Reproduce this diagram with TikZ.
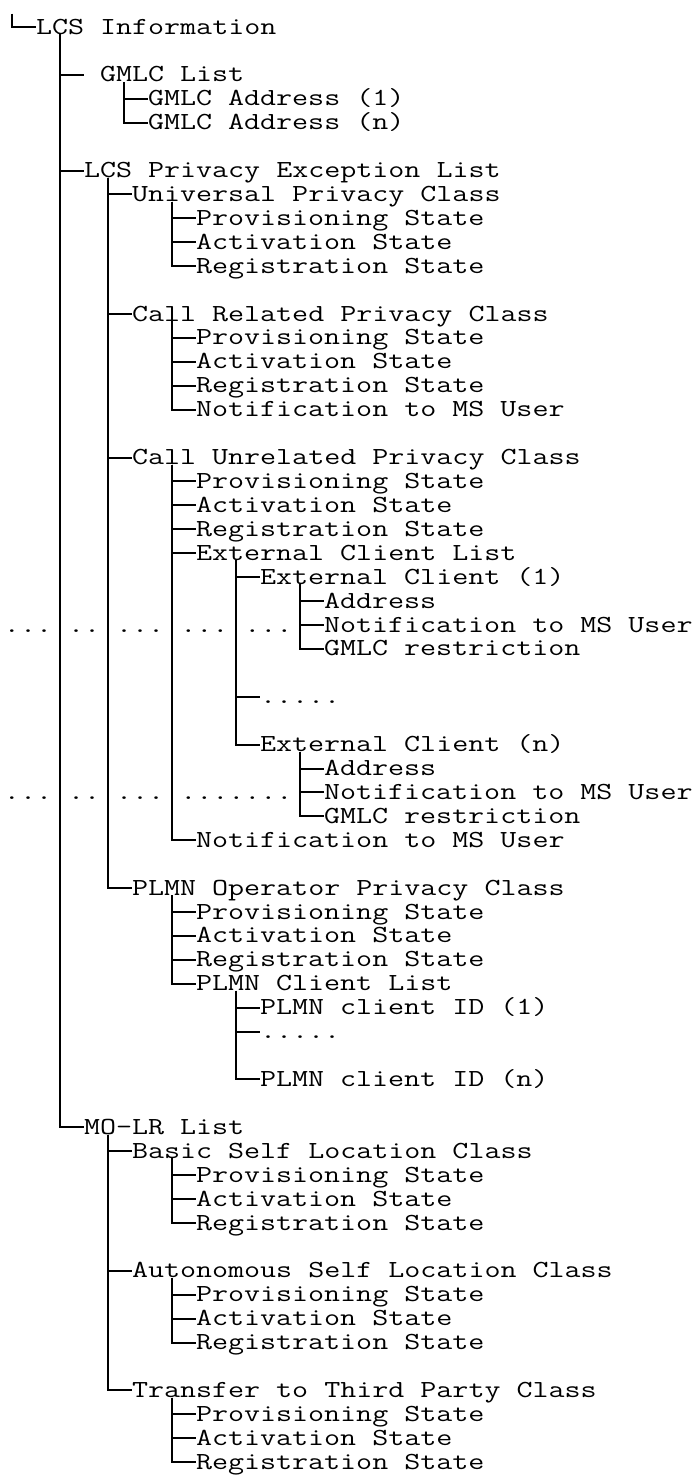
\documentclass[tikz,border=0pt]{standalone}
\usepackage{fontspec}
\newcommand\tbr[2]{\draw[ln] (#1) |- (#2.west);}
\newcommand\T[1]{\scalebox{1.27}[1]{#1}}
\tikzset{
  lbl/.style={anchor=west, inner sep=0pt, outer sep=0pt, text height=14pt, text depth=0pt,
    font=\ttfamily\fontsize{24.5pt}{24pt}\selectfont},
  ln/.style={line width=2pt, line join=miter}
}
\begin{document}
\begin{tikzpicture}[x=16pt, y=-23.92pt]
\useasboundingbox (-0.25,-0.1288) rectangle (43.125,61.535);
\fill[white] (-0.25,-0.1288) rectangle (43.125,61.535);

% ---- nodes ----
\node[lbl] (root) at (2,1) {\T{LCS Information}};
\node[lbl] (gmlc) at (5,3) {\T{\phantom{G}GMLC List}};
\node[lbl] (ga1) at (9,4) {\T{GMLC Address (1)}};
\node[lbl] (gan) at (9,5) {\T{GMLC Address (n)}};
\node[lbl] (lpel) at (5,7) {\T{LCS Privacy Exception List}};
\node[lbl] (upc) at (8,8) {\T{Universal Privacy Class}};
\node[lbl] (upc1) at (12,9) {\T{Provisioning State}};
\node[lbl] (upc2) at (12,10) {\T{Activation State}};
\node[lbl] (upc3) at (12,11) {\T{Registration State}};
\node[lbl] (crpc) at (8,13) {\T{Call Related Privacy Class}};
\node[lbl] (crpc1) at (12,14) {\T{Provisioning State}};
\node[lbl] (crpc2) at (12,15) {\T{Activation State}};
\node[lbl] (crpc3) at (12,16) {\T{Registration State}};
\node[lbl] (crpc4) at (12,17) {\T{Notification to MS User}};
\node[lbl] (cupc) at (8,19) {\T{Call Unrelated Privacy Class}};
\node[lbl] (cupc1) at (12,20) {\T{Provisioning State}};
\node[lbl] (cupc2) at (12,21) {\T{Activation State}};
\node[lbl] (cupc3) at (12,22) {\T{Registration State}};
\node[lbl] (ecl) at (12,23) {\T{External Client List}};
\node[lbl] (ec1) at (16,24) {\T{External Client (1)}};
\node[lbl] (ec1a) at (20,25) {\T{Address}};
\node[lbl] (ec1b) at (20,26) {\T{Notification to MS User}};
\node[lbl] (ec1c) at (20,27) {\T{GMLC restriction}};
\node[lbl] (edots) at (16,29) {\T{.....}};
\node[lbl] (ecn) at (16,31) {\T{External Client (n)}};
\node[lbl] (ecna) at (20,32) {\T{Address}};
\node[lbl] (ecnb) at (20,33) {\T{Notification to MS User}};
\node[lbl] (ecnc) at (20,34) {\T{GMLC restriction}};
\node[lbl] (cupc5) at (12,35) {\T{Notification to MS User}};
\node[lbl] (popc) at (8,37) {\T{PLMN Operator Privacy Class}};
\node[lbl] (popc1) at (12,38) {\T{Provisioning State}};
\node[lbl] (popc2) at (12,39) {\T{Activation State}};
\node[lbl] (popc3) at (12,40) {\T{Registration State}};
\node[lbl] (pcl) at (12,41) {\T{PLMN Client List}};
\node[lbl] (pid1) at (16,42) {\T{PLMN client ID (1)}};
\node[lbl] (pdots) at (16,43) {\T{.....}};
\node[lbl] (pidn) at (16,45) {\T{PLMN client ID (n)}};
\node[lbl] (molr) at (5,47) {\T{MO-LR List}};
\node[lbl] (bslc) at (8,48) {\T{Basic Self Location Class}};
\node[lbl] (bslc1) at (12,49) {\T{Provisioning State}};
\node[lbl] (bslc2) at (12,50) {\T{Activation State}};
\node[lbl] (bslc3) at (12,51) {\T{Registration State}};
\node[lbl] (aslc) at (8,53) {\T{Autonomous Self Location Class}};
\node[lbl] (aslc1) at (12,54) {\T{Provisioning State}};
\node[lbl] (aslc2) at (12,55) {\T{Activation State}};
\node[lbl] (aslc3) at (12,56) {\T{Registration State}};
\node[lbl] (ttpc) at (8,58) {\T{Transfer to Third Party Class}};
\node[lbl] (ttpc1) at (12,59) {\T{Provisioning State}};
\node[lbl] (ttpc2) at (12,60) {\T{Activation State}};
\node[lbl] (ttpc3) at (12,61) {\T{Registration State}};

% dotted filler rows
\node[lbl] (dotsA) at (0,26) {\T{...\phantom{.}..\phantom{.}...\phantom{.}...\phantom{.}...}};
\node[lbl] (dotsB) at (0,33) {\T{...\phantom{.}..\phantom{.}...\phantom{.}.......}};

% ---- stems (tops of vertical lines) ----
\coordinate (rootstub) at (0.5,0.44);
\coordinate (rootV) at (3.5,1.3);
\coordinate (gmlcV) at (7.5,3.3);
\coordinate (lpelV) at (6.5,7.3);
\coordinate (upcV) at (10.5,8.3);
\coordinate (crpcV) at (10.5,13.3);
\coordinate (cupcV) at (10.5,19.3);
\coordinate (eclV) at (14.5,23.3);
\coordinate (ec1V) at (18.5,24.3);
\coordinate (ecnV) at (18.5,31.3);
\coordinate (popcV) at (10.5,37.3);
\coordinate (pclV) at (14.5,41.3);
\coordinate (molrV) at (6.5,47.3);
\coordinate (bslcV) at (10.5,48.3);
\coordinate (aslcV) at (10.5,53.3);
\coordinate (ttpcV) at (10.5,58.3);

% ---- connectors ----
\tbr{rootstub}{root}
\foreach \c in {gmlc,lpel,molr} {\tbr{rootV}{\c}}
\foreach \c in {ga1,gan} {\tbr{gmlcV}{\c}}
\foreach \c in {upc,crpc,cupc,popc} {\tbr{lpelV}{\c}}
\foreach \c in {upc1,upc2,upc3} {\tbr{upcV}{\c}}
\foreach \c in {crpc1,crpc2,crpc3,crpc4} {\tbr{crpcV}{\c}}
\foreach \c in {cupc1,cupc2,cupc3,ecl,cupc5} {\tbr{cupcV}{\c}}
\foreach \c in {ec1,edots,ecn} {\tbr{eclV}{\c}}
\foreach \c in {ec1a,ec1b,ec1c} {\tbr{ec1V}{\c}}
\foreach \c in {ecna,ecnb,ecnc} {\tbr{ecnV}{\c}}
\foreach \c in {popc1,popc2,popc3,pcl} {\tbr{popcV}{\c}}
\foreach \c in {pid1,pdots,pidn} {\tbr{pclV}{\c}}
\foreach \c in {bslc,aslc,ttpc} {\tbr{molrV}{\c}}
\foreach \c in {bslc1,bslc2,bslc3} {\tbr{bslcV}{\c}}
\foreach \c in {aslc1,aslc2,aslc3} {\tbr{aslcV}{\c}}
\foreach \c in {ttpc1,ttpc2,ttpc3} {\tbr{ttpcV}{\c}}
\end{tikzpicture}
\end{document}
